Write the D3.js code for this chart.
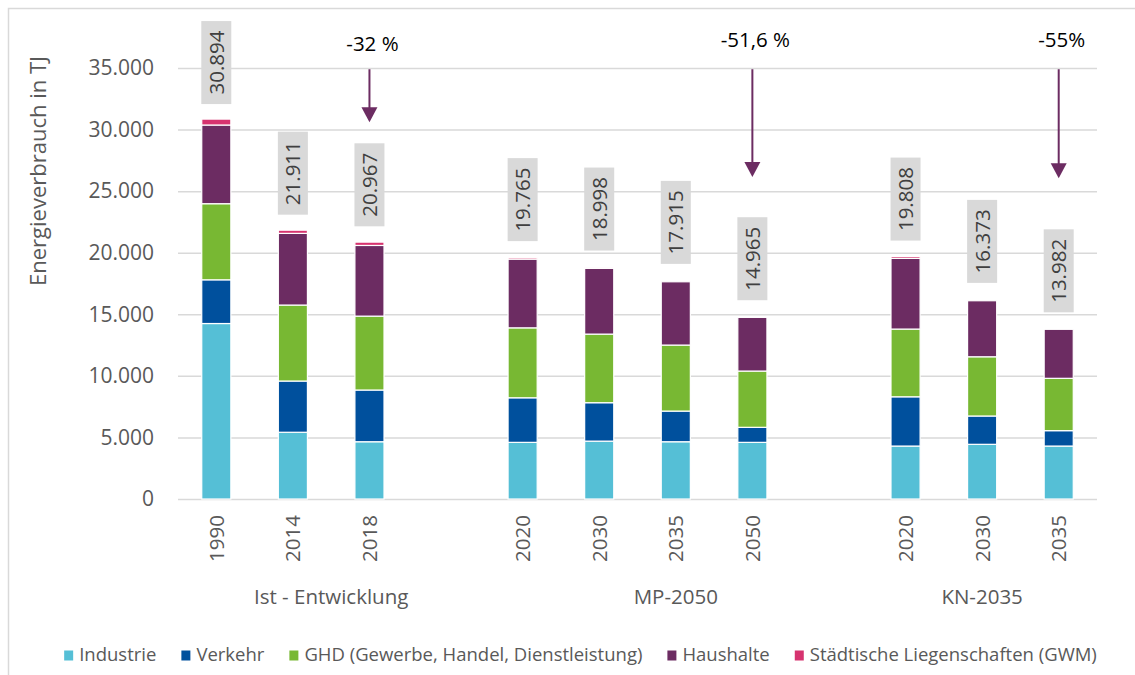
<!DOCTYPE html>
<html>
<head>
<meta charset="utf-8">
<script src="https://cdn.jsdelivr.net/npm/d3@7"></script>
<style>
    body { margin: 0; background: #fff; }
    svg text { font-family: "Open Sans", sans-serif; }
</style>
</head>
<body>
<div id="chart"></div>
<script>

// groups on the category axis and their years
const groups = ["Ist - Entwicklung", "MP-2050", "KN-2035"];
const groupYears = [
    ["1990", "2014", "2018"],
    ["2020", "2030", "2035", "2050"],
    ["2020", "2030", "2035"]
];

// series values in TJ, one per bar
const industrie = [14250, 5420, 4650, 4600, 4700, 4650, 4600, 4300, 4440, 4300];
const verkehr   = [3550, 4160, 4200, 3620, 3120, 2490, 1220, 4000, 2300, 1250];
const ghd       = [6180, 6170, 6000, 5680, 5570, 5360, 4570, 5500, 4810, 4250];
const haushalte = [6390, 5820, 5740, 5580, 5340, 5140, 4360, 5740, 4550, 3980];
const gwm       = [480, 260, 270, 120, 100, 0, 30, 150, 0, 0];

// total labels above the bars
const totals = [30894, 21911, 20967, 19765, 18998, 17915, 14965, 19808, 16373, 13982];

// reduction annotations: label, group index, year, arrow tip value
const reductions = [
    {label: "-32 %", group: 0, year: "2018", tip: 30600},
    {label: "-51,6 %", group: 1, year: "2050", tip: 26150},
    {label: "-55%", group: 2, year: "2035", tip: 26050}
];

const seriesNames = ["Industrie", "Verkehr", "GHD (Gewerbe, Handel, Dienstleistung)", "Haushalte", "Städtische Liegenschaften (GWM)"];
const seriesColors = ["#55bfd6", "#00509d", "#78b833", "#6c2c62", "#d6336f"];
const yTicks = [0, 5000, 10000, 15000, 20000, 25000, 30000, 35000];


class EnergyStackVis {

    constructor(_parentElement) {
        this.parentElement = _parentElement;
        this.initVis();
    }

    initVis() {
        let vis = this;

        vis.width = 1135;
        vis.height = 675;
        vis.plot = {left: 178, right: 1097, top: 68, bottom: 499};

        vis.svg = d3.select("#" + vis.parentElement).append("svg")
            .attr("width", vis.width)
            .attr("height", vis.height);

        // chart border
        vis.svg.append("rect")
            .attr("x", 8.5).attr("y", 8.5)
            .attr("width", 1140).attr("height", 690)
            .attr("fill", "none")
            .attr("stroke", "#d9d9d9")
            .attr("stroke-width", 1.5);

        vis.de = d3.formatLocale({decimal: ",", thousands: ".", grouping: [3], currency: ["", ""]});
        vis.fmt = vis.de.format(",");

        // category slots, with an empty slot after every group but the last
        vis.slots = [];
        vis.barKeys = [];
        groups.forEach((g, gi) => {
            groupYears[gi].forEach(y => {
                vis.slots.push(g + "|" + y);
                vis.barKeys.push(g + "|" + y);
            });
            if (gi < groups.length - 1) vis.slots.push(g + "|gap");
        });

        vis.x = d3.scaleBand()
            .domain(vis.slots)
            .range([vis.plot.left, vis.plot.right])
            .paddingInner(0.62)
            .paddingOuter(0.31);

        vis.y = d3.scaleLinear()
            .domain([0, 35000])
            .range([vis.plot.bottom, vis.plot.top]);

        vis.wrangleData();
    }

    wrangleData() {
        let vis = this;

        vis.keys = ["industrie", "verkehr", "ghd", "haushalte", "gwm"];
        let cols = [industrie, verkehr, ghd, haushalte, gwm];

        vis.rows = vis.barKeys.map((k, i) => {
            let row = {slot: k, total: totals[i]};
            vis.keys.forEach((s, si) => row[s] = cols[si][i]);
            return row;
        });

        vis.stacked = d3.stack().keys(vis.keys)(vis.rows);

        vis.updateVis();
    }

    updateVis() {
        let vis = this;
        let bw = vis.x.bandwidth();

        // y axis with gridlines
        let yAxis = d3.axisLeft(vis.y)
            .tickValues(yTicks)
            .tickSize(-(vis.plot.right - vis.plot.left))
            .tickPadding(24)
            .tickFormat(d => vis.fmt(d));

        let yg = vis.svg.append("g")
            .attr("class", "y-axis")
            .attr("transform", "translate(" + vis.plot.left + ",0)")
            .call(yAxis);
        yg.select(".domain").remove();
        yg.selectAll("line")
            .attr("stroke", "#d9d9d9")
            .attr("stroke-width", 1.5);
        yg.selectAll("text")
            .attr("fill", "#595959")
            .style("font-size", "21px");

        vis.svg.append("text")
            .attr("transform", "translate(46," + 171 + ") rotate(-90)")
            .attr("text-anchor", "middle")
            .attr("fill", "#595959")
            .style("font-size", "22px")
            .text("Energieverbrauch in TJ");

        // stacked bars
        let layers = vis.svg.selectAll(".layer")
            .data(vis.stacked)
            .enter().append("g")
            .attr("class", "layer")
            .attr("fill", (d, i) => seriesColors[i]);

        layers.selectAll("rect")
            .data(d => d.filter(p => p[1] - p[0] > 0))
            .enter().append("rect")
            .attr("x", d => vis.x(d.data.slot))
            .attr("y", d => vis.y(d[1]))
            .attr("width", bw)
            .attr("height", d => vis.y(d[0]) - vis.y(d[1]))
            .attr("stroke", "#fff")
            .attr("stroke-width", 1.2);

        // total labels in grey boxes
        let labels = vis.svg.selectAll(".total")
            .data(vis.rows)
            .enter().append("g")
            .attr("class", "total");

        labels.each(function(d) {
            let g = d3.select(this);
            let cx = vis.x(d.slot) + bw / 2;
            let t = g.append("text")
                .attr("text-anchor", "middle")
                .attr("dy", "0.36em")
                .attr("fill", "#404040")
                .style("font-size", "20.5px")
                .text(vis.fmt(d.total));
            let len = t.node().getComputedTextLength();
            let boxH = len + 19;
            let cy = vis.y(d.total) - 14.5 - boxH / 2;
            g.insert("rect", "text")
                .attr("x", cx - 15)
                .attr("y", cy - boxH / 2)
                .attr("width", 30)
                .attr("height", boxH)
                .attr("fill", "#d9d9d9");
            t.attr("transform", "translate(" + cx + "," + cy + ") rotate(-90)");
        });

        // x axis: years and group names
        vis.svg.selectAll(".year")
            .data(vis.barKeys)
            .enter().append("text")
            .attr("class", "year")
            .attr("transform", d => "translate(" + (vis.x(d) + bw / 2) + "," + 515 + ") rotate(-90)")
            .attr("text-anchor", "end")
            .attr("dy", "0.36em")
            .attr("fill", "#595959")
            .style("font-size", "20.5px")
            .text(d => d.split("|")[1]);

        vis.svg.selectAll(".group-label")
            .data(groups)
            .enter().append("text")
            .attr("class", "group-label")
            .attr("x", (g, gi) => {
                let own = vis.slots.filter(s => s.startsWith(g + "|"));
                return (vis.x(own[0]) + vis.x(own[own.length - 1])) / 2 + bw / 2;
            })
            .attr("y", 604)
            .attr("text-anchor", "middle")
            .attr("fill", "#595959")
            .style("font-size", "20.5px")
            .text(d => d);

        // reduction arrows
        let purple = "#6c2c62";
        let arrows = vis.svg.selectAll(".reduction")
            .data(reductions)
            .enter().append("g")
            .attr("class", "reduction");

        arrows.each(function(d, i) {
            let g = d3.select(this);
            let cx = vis.x(groups[d.group] + "|" + d.year) + bw / 2;
            let tipY = vis.y(d.tip);
            g.append("text")
                .attr("x", cx + 3)
                .attr("y", i === 0 ? 51 : 47)
                .attr("text-anchor", "middle")
                .attr("fill", "#000")
                .style("font-size", "20.5px")
                .text(d.label);
            g.append("line")
                .attr("x1", cx).attr("x2", cx)
                .attr("y1", vis.y(34900)).attr("y2", tipY - 12)
                .attr("stroke", purple)
                .attr("stroke-width", 2);
            g.append("path")
                .attr("d", "M" + (cx - 8) + "," + (tipY - 15) + "L" + (cx + 8) + "," + (tipY - 15) + "L" + cx + "," + tipY + "Z")
                .attr("fill", purple);
        });

        // legend, centred under the plot
        let legend = vis.svg.append("g").attr("class", "legend");
        let offset = 0;
        seriesNames.forEach((name, i) => {
            let item = legend.append("g");
            item.append("rect")
                .attr("x", 0).attr("y", -10.5)
                .attr("width", 9).attr("height", 10)
                .attr("fill", seriesColors[i]);
            let t = item.append("text")
                .attr("x", 15).attr("y", 0)
                .attr("fill", "#595959")
                .style("font-size", "18.5px")
                .text(name);
            item.attr("transform", "translate(" + offset + ",0)");
            offset += 15 + t.node().getComputedTextLength() + 25;
        });
        let legendW = offset - 25;
        legend.attr("transform", "translate(" + (580.5 - legendW / 2) + ",661)");
    }
}

new EnergyStackVis("chart");

</script>
</body>
</html>
